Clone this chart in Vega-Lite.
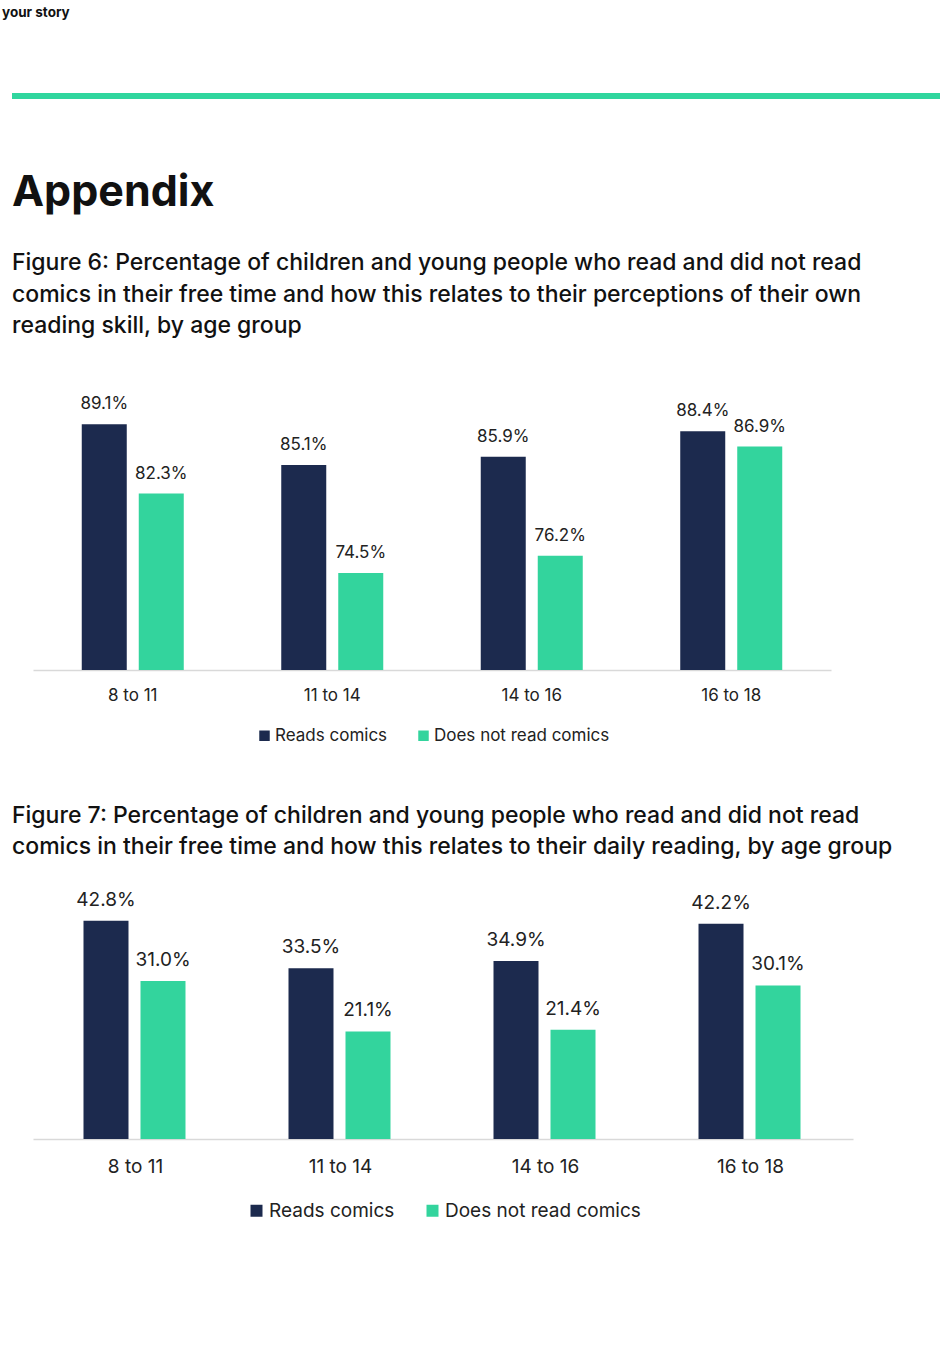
{
  "$schema": "https://vega.github.io/schema/vega-lite/v6.json",
  "background": "white",
  "padding": {"left": 2, "top": 5, "right": 0, "bottom": 0},
  "config": {
    "font": "Inter",
    "view": {"stroke": null},
    "axis": {"labelColor": "#222222", "domainColor": "#d9d9d9", "domainWidth": 1.5, "ticks": false, "grid": false, "labelAngle": 0, "title": null},
    "legend": {"padding": 0, "labelLimit": 400}
  },
  "datasets": {
    "skill": [
      {"age": "8 to 11", "group": "Reads comics", "pct": 0.891},
      {"age": "8 to 11", "group": "Does not read comics", "pct": 0.823},
      {"age": "11 to 14", "group": "Reads comics", "pct": 0.851},
      {"age": "11 to 14", "group": "Does not read comics", "pct": 0.745},
      {"age": "14 to 16", "group": "Reads comics", "pct": 0.859},
      {"age": "14 to 16", "group": "Does not read comics", "pct": 0.762},
      {"age": "16 to 18", "group": "Reads comics", "pct": 0.884},
      {"age": "16 to 18", "group": "Does not read comics", "pct": 0.869}
    ],
    "daily": [
      {"age": "8 to 11", "group": "Reads comics", "pct": 0.428},
      {"age": "8 to 11", "group": "Does not read comics", "pct": 0.310},
      {"age": "11 to 14", "group": "Reads comics", "pct": 0.335},
      {"age": "11 to 14", "group": "Does not read comics", "pct": 0.211},
      {"age": "14 to 16", "group": "Reads comics", "pct": 0.349},
      {"age": "14 to 16", "group": "Does not read comics", "pct": 0.214},
      {"age": "16 to 18", "group": "Reads comics", "pct": 0.422},
      {"age": "16 to 18", "group": "Does not read comics", "pct": 0.301}
    ],
    "blank": [{"t": ""}]
  },
  "bounds": "flush",
  "spacing": 316,
  "vconcat": [
    {
      "width": 928,
      "height": 6,
      "view": {"fill": "#30d69e", "stroke": null},
      "title": {"text": "your story", "anchor": "start", "dx": -10, "offset": 71, "fontSize": 13.5, "fontWeight": 700, "color": "#111111"},
      "data": {"name": "blank"},
      "mark": {"type": "text"},
      "encoding": {"text": {"field": "t"}}
    },
    {
      "bounds": "flush",
      "spacing": 214,
      "resolve": {"scale": {"color": "independent"}, "legend": {"color": "independent"}},
      "vconcat": [
        {
          "width": 928,
          "height": 255,
          "title": {
            "text": "Appendix",
            "subtitle": [
              "Figure 6: Percentage of children and young people who read and did not read",
              "comics in their free time and how this relates to their perceptions of their own",
              "reading skill, by age group"
            ],
            "anchor": "start",
            "fontSize": 43,
            "fontWeight": 700,
            "color": "#111111",
            "subtitleFontSize": 23,
            "subtitleFontWeight": 500,
            "subtitleColor": "#111111",
            "subtitleLineHeight": 31.5,
            "subtitlePadding": 37,
            "offset": 57
          },
          "data": {"name": "skill"},
          "encoding": {
            "x": {
              "field": "age", "type": "nominal",
              "sort": ["8 to 11", "11 to 14", "14 to 16", "16 to 18"],
              "scale": {"range": [21, 819], "paddingInner": 0.4887, "paddingOuter": 0.2444},
              "axis": {"labelFontSize": 17, "labelPadding": 17}
            },
            "xOffset": {
              "field": "group", "type": "nominal",
              "sort": ["Reads comics", "Does not read comics"],
              "scale": {"paddingInner": 0.2105, "paddingOuter": 0}
            },
            "y": {"field": "pct", "type": "quantitative", "scale": {"domain": [0.65, 0.9], "zero": false, "nice": false}, "axis": null}
          },
          "layer": [
            {
              "mark": {"type": "bar"},
              "encoding": {
                "y2": {"datum": 0.65},
                "color": {
                  "field": "group", "type": "nominal",
                  "scale": {"domain": ["Reads comics", "Does not read comics"], "range": ["#1c2a4e", "#33d49d"]},
                  "legend": {"title": null, "orient": "none", "direction": "horizontal", "legendX": 244, "legendY": 312, "symbolType": "square", "symbolSize": 110, "symbolStrokeWidth": 0, "symbolOpacity": 1, "labelFontSize": 17, "labelColor": "#222222", "labelOffset": 2, "columnPadding": 27}
                }
              }
            },
            {
              "mark": {"type": "text", "dy": -20, "fontSize": 17, "color": "#222222", "baseline": "middle"},
              "encoding": {"text": {"field": "pct", "type": "quantitative", "format": ".1%"}}
            }
          ]
        },
        {
          "width": 928,
          "height": 255,
          "title": {
            "text": [
              "Figure 7: Percentage of children and young people who read and did not read",
              "comics in their free time and how this relates to their daily reading, by age group"
            ],
            "anchor": "start",
            "fontSize": 23,
            "fontWeight": 500,
            "color": "#111111",
            "lineHeight": 31.5,
            "offset": 25
          },
          "data": {"name": "daily"},
          "encoding": {
            "x": {
              "field": "age", "type": "nominal",
              "sort": ["8 to 11", "11 to 14", "14 to 16", "16 to 18"],
              "scale": {"range": [21, 841], "paddingInner": 0.4927, "paddingOuter": 0.2463},
              "axis": {"labelFontSize": 19, "labelPadding": 18}
            },
            "xOffset": {
              "field": "group", "type": "nominal",
              "sort": ["Reads comics", "Does not read comics"],
              "scale": {"paddingInner": 0.2069, "paddingOuter": 0}
            },
            "y": {"field": "pct", "type": "quantitative", "scale": {"domain": [0, 0.5], "nice": false}, "axis": null}
          },
          "layer": [
            {
              "mark": {"type": "bar"},
              "encoding": {
                "y2": {"datum": 0},
                "color": {
                  "field": "group", "type": "nominal",
                  "scale": {"domain": ["Reads comics", "Does not read comics"], "range": ["#1c2a4e", "#33d49d"]},
                  "legend": {"title": null, "orient": "none", "direction": "horizontal", "legendX": 235, "legendY": 317, "symbolType": "square", "symbolSize": 144, "symbolStrokeWidth": 0, "symbolOpacity": 1, "labelFontSize": 19, "labelColor": "#222222", "labelOffset": 3, "columnPadding": 28}
                }
              }
            },
            {
              "mark": {"type": "text", "dy": -21, "fontSize": 19, "color": "#222222", "baseline": "middle"},
              "encoding": {"text": {"field": "pct", "type": "quantitative", "format": ".1%"}}
            }
          ]
        }
      ]
    }
  ]
}
